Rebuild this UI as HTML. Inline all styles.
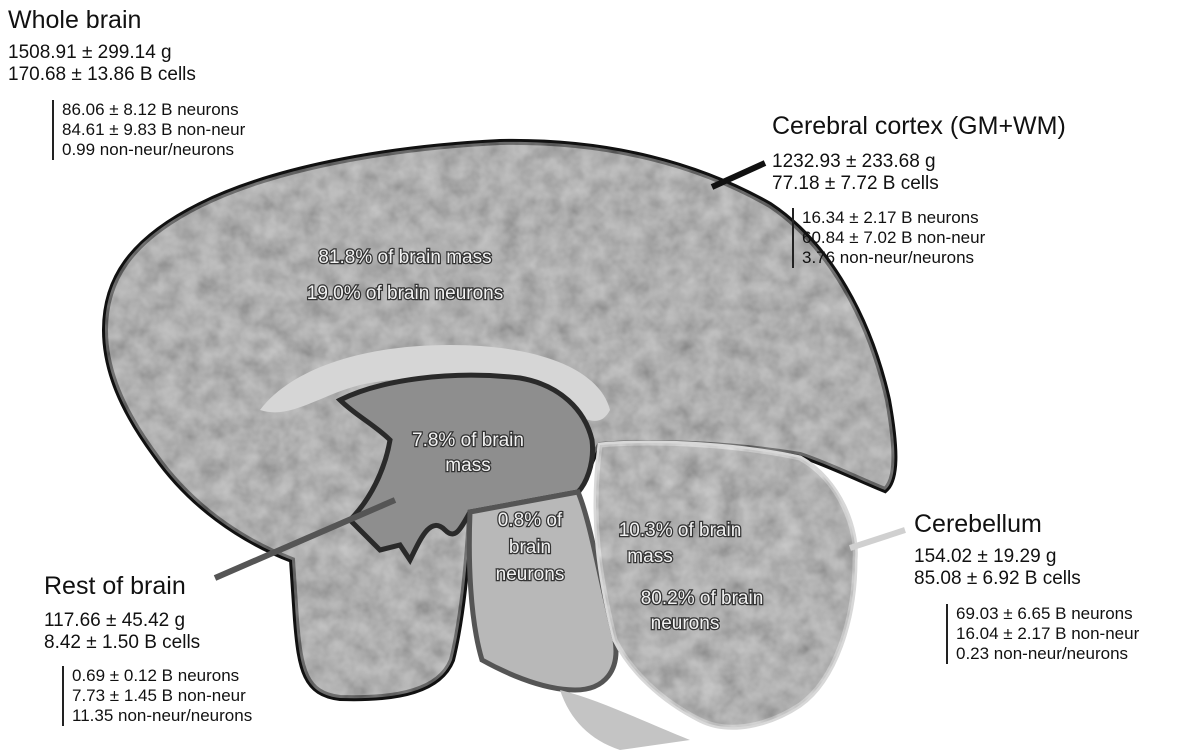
<!DOCTYPE html>
<html><head><meta charset="utf-8"><style>
html,body{margin:0;padding:0;background:#fff;}
body{width:1200px;height:753px;position:relative;overflow:hidden;font-family:"Liberation Sans",sans-serif;color:#111;}
.t{position:absolute;white-space:nowrap;}
.h{font-size:25px;}
.m{font-size:19px;line-height:22px;}
.s{font-size:17px;line-height:20px;padding-left:8px;border-left:2px solid #222;}
</style></head><body>
<svg width="1200" height="753" style="position:absolute;left:0;top:0">
<defs>
<filter id="n"><feTurbulence type="fractalNoise" baseFrequency="0.05" numOctaves="3" seed="4"/><feColorMatrix type="saturate" values="0"/><feComponentTransfer><feFuncA type="linear" slope="0" intercept="0.5"/></feComponentTransfer><feComposite in2="SourceGraphic" operator="in"/></filter>
</defs>
<path id="cx" d="M105,330 C105,280 130,240 200,205 C270,170 380,148 500,142 C610,140 700,165 770,205 C830,245 870,320 888,400 C897,450 897,480 885,490 C860,480 830,465 800,455 C740,445 660,440 600,445 C590,460 585,480 578,492 L470,512 C468,560 462,620 452,660 C440,690 400,700 340,698 C305,694 300,670 296,620 L292,560 C240,540 190,505 155,455 C122,410 105,370 105,330 Z" fill="#a3a3a3" stroke="#111" stroke-width="6"/>
<path d="M105,330 C105,280 130,240 200,205 C270,170 380,148 500,142 C610,140 700,165 770,205 C830,245 870,320 888,400 C897,450 897,480 885,490 C860,480 830,465 800,455 C740,445 660,440 600,445 C590,460 585,480 578,492 L470,512 C468,560 462,620 452,660 C440,690 400,700 340,698 C305,694 300,670 296,620 L292,560 C240,540 190,505 155,455 C122,410 105,370 105,330 Z" fill="#000" filter="url(#n)"/>
<path d="M260,410 C290,370 360,345 450,345 C540,345 600,370 610,410 C600,430 580,420 560,400 C520,380 430,370 360,385 C320,395 290,420 260,410 Z" fill="#d6d6d6"/>
<path d="M340,400 C380,380 450,370 520,378 C560,385 585,410 592,440 C595,465 585,485 578,492 L470,512 C460,530 455,540 445,530 C430,515 420,540 410,560 L400,545 L380,550 L350,520 C370,500 385,470 390,440 C375,425 355,415 340,400 Z" fill="#8e8e8e" stroke="#2a2a2a" stroke-width="5"/>
<path d="M470,512 L578,492 C590,520 600,580 615,640 C620,670 605,690 575,690 C540,690 500,670 482,660 C470,620 468,560 470,512 Z" fill="#b8b8b8" stroke="#555" stroke-width="5"/>
<path d="M560,690 C600,700 640,720 690,740 L620,750 C590,740 570,720 560,690Z" fill="#c4c4c4"/>
<path d="M600,445 C660,440 740,445 800,458 C840,480 858,530 855,560 C855,620 835,680 800,705 C770,725 730,735 700,720 C660,700 630,670 615,640 C600,580 590,520 600,445 Z" fill="#a6a6a6" stroke="#d8d8d8" stroke-width="5"/>
<path d="M600,445 C660,440 740,445 800,458 C840,480 858,530 855,560 C855,620 835,680 800,705 C770,725 730,735 700,720 C660,700 630,670 615,640 C600,580 590,520 600,445 Z" fill="#000" filter="url(#n)"/>
<line x1="712" y1="187" x2="765" y2="163" stroke="#111" stroke-width="6"/>
<line x1="850" y1="548" x2="905" y2="530" stroke="#d0d0d0" stroke-width="6"/>
<line x1="395" y1="500" x2="215" y2="578" stroke="#555" stroke-width="6"/>
<g font-family="Liberation Sans, sans-serif" font-size="19" fill="#f2f2f2" stroke="#333" stroke-width="2.5" paint-order="stroke" text-anchor="middle">
<text x="405" y="263">81.8% of brain mass</text>
<text x="405" y="299">19.0% of brain neurons</text>
<text x="468" y="446">7.8% of brain</text>
<text x="468" y="471">mass</text>
<text x="530" y="526">0.8% of</text>
<text x="530" y="553">brain</text>
<text x="530" y="580">neurons</text>
<text x="680" y="536">10.3% of brain</text>
<text x="650" y="562">mass</text>
<text x="702" y="604">80.2% of brain</text>
<text x="685" y="629">neurons</text>
</g>
</svg>
<div class="t h" style="left:8px;top:6px">Whole brain</div>
<div class="t m" style="left:8px;top:42px">1508.91 ± 299.14 g<br>170.68 ± 13.86 B cells</div>
<div class="t s" style="left:52px;top:100px">86.06 ± 8.12 B neurons<br>84.61 ± 9.83 B non-neur<br>0.99 non-neur/neurons</div>
<div class="t h" style="left:772px;top:112px">Cerebral cortex (GM+WM)</div>
<div class="t m" style="left:772px;top:151px">1232.93 ± 233.68 g<br>77.18 ± 7.72 B cells</div>
<div class="t s" style="left:792px;top:208px">16.34 ± 2.17 B neurons<br>60.84 ± 7.02 B non-neur<br>3.76 non-neur/neurons</div>
<div class="t h" style="left:914px;top:510px">Cerebellum</div>
<div class="t m" style="left:914px;top:546px">154.02 ± 19.29 g<br>85.08 ± 6.92 B cells</div>
<div class="t s" style="left:946px;top:604px">69.03 ± 6.65 B neurons<br>16.04 ± 2.17 B non-neur<br>0.23 non-neur/neurons</div>
<div class="t h" style="left:44px;top:572px">Rest of brain</div>
<div class="t m" style="left:44px;top:610px">117.66 ± 45.42 g<br>8.42 ± 1.50 B cells</div>
<div class="t s" style="left:62px;top:666px">0.69 ± 0.12 B neurons<br>7.73 ± 1.45 B non-neur<br>11.35 non-neur/neurons</div>
</body></html>
